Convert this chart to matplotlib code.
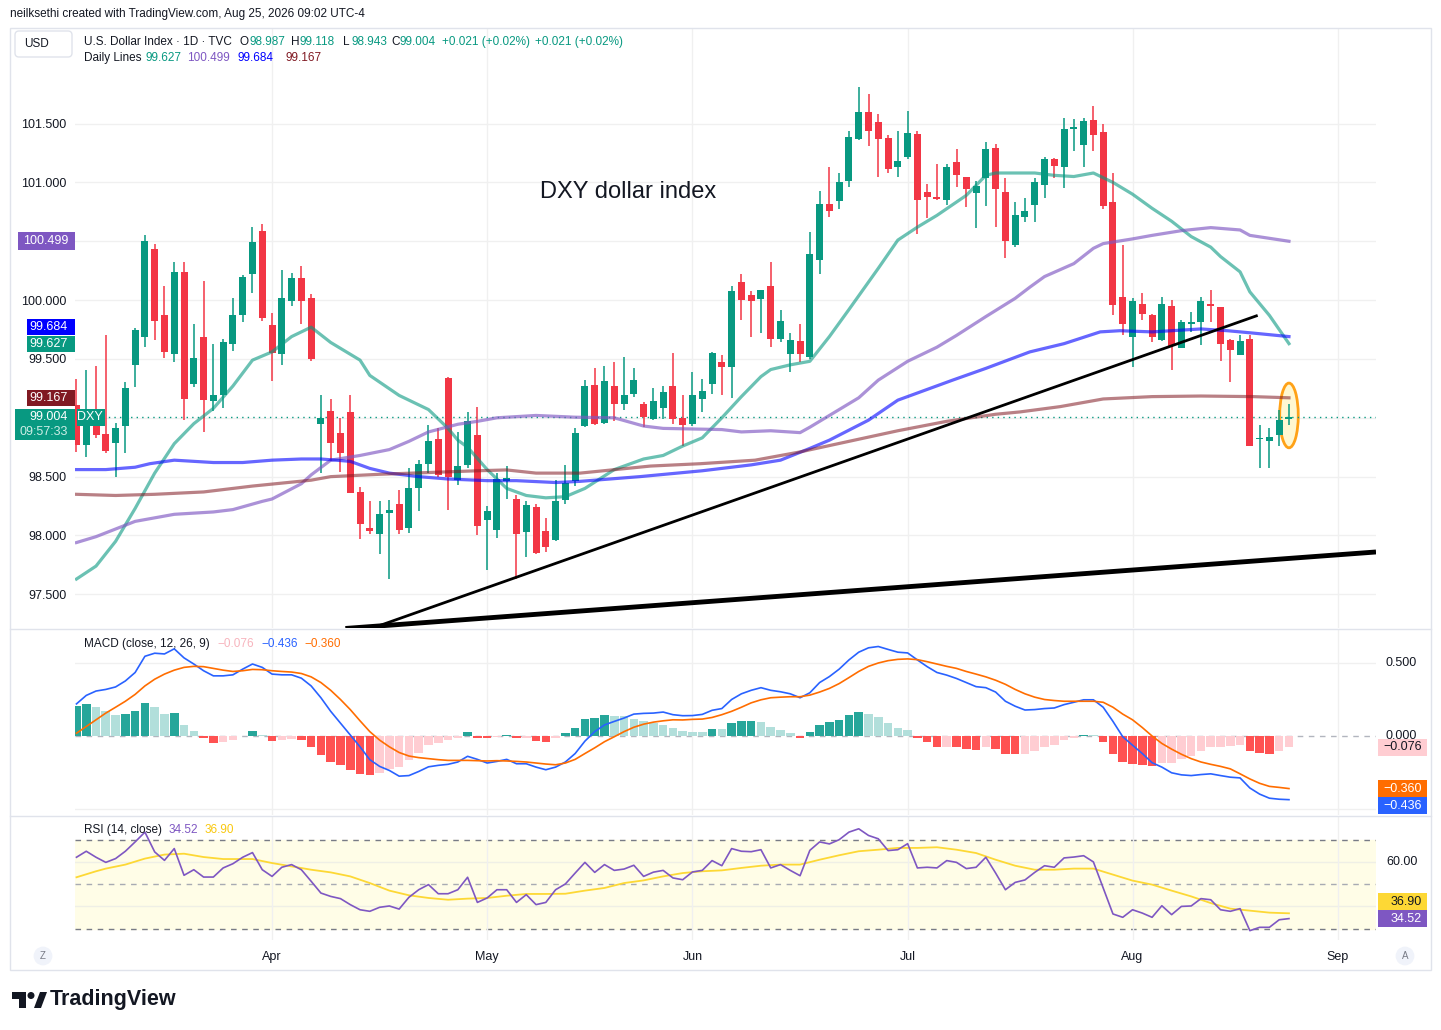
import numpy as np
import pandas as pd
import matplotlib
matplotlib.use("Agg")
import matplotlib.pyplot as plt
from matplotlib.patches import Rectangle, Ellipse, Polygon, FancyBboxPatch
from matplotlib.lines import Line2D
from matplotlib.transforms import Affine2D

plt.rcParams['font.family'] = ['Liberation Sans', 'DejaVu Sans']

###########################################################################
#### Data ####
dates = pd.bdate_range("2026-03-04", "2026-08-25")

opens = [99.11, 98.77, 99.00, 98.86, 98.79, 98.93, 99.45, 99.69, 100.43, 99.87,
         99.54, 100.24, 99.29, 99.69, 99.14, 99.19, 99.63, 99.87, 100.22, 100.59,
         99.79, 99.54, 99.99, 100.19, 100.02, 98.95, 99.06, 98.87, 99.05, 98.37,
         98.06, 98.01, 98.19, 98.27, 98.06, 98.40, 98.61, 98.82, 99.34, 98.47,
         98.60, 98.85, 98.13, 98.05, 98.46, 98.31, 98.03, 98.24, 98.04, 97.96,
         98.30, 98.46, 98.93, 99.28, 98.96, 99.27, 99.12, 99.20, 99.12, 98.99,
         99.08, 99.27, 99.00, 98.95, 99.16, 99.29, 99.47, 99.43, 100.15, 100.04,
         100.01, 100.12, 99.67, 99.54, 99.65, 99.52, 100.34, 100.82, 100.84, 101.01,
         101.37, 101.60, 101.51, 101.38, 101.13, 101.22, 101.41, 100.92, 100.87, 100.85,
         101.17, 101.05, 100.91, 101.04, 101.29, 100.92, 100.47, 100.71, 100.81, 100.98,
         101.20, 101.13, 101.45, 101.32, 101.53, 101.43, 100.83, 100.03, 99.69, 99.97,
         99.87, 99.66, 99.95, 99.59, 99.80, 99.81, 99.97, 99.94, 99.66, 99.53,
         99.67, 98.82, 98.80, 98.85, 98.987]
highs = [99.33, 99.41, 99.44, 99.70, 98.96, 99.30, 99.76, 100.55, 100.48, 100.12,
         100.32, 100.32, 99.80, 100.16, 99.63, 99.67, 100.02, 100.21, 100.62, 100.65,
         99.89, 100.26, 100.23, 100.29, 100.05, 99.19, 99.16, 99.00, 99.19, 98.41,
         98.29, 98.29, 98.30, 98.39, 98.57, 98.64, 98.94, 98.91, 99.35, 98.88,
         99.05, 99.09, 98.25, 98.53, 98.59, 98.34, 98.29, 98.27, 98.15, 98.47,
         98.60, 98.91, 99.32, 99.42, 99.44, 99.47, 99.52, 99.42, 99.13, 99.25,
         99.27, 99.55, 99.19, 99.39, 99.33, 99.56, 99.53, 100.12, 100.22, 100.08,
         100.09, 100.32, 99.92, 99.72, 99.80, 100.58, 100.93, 101.13, 101.08, 101.44,
         101.81, 101.75, 101.58, 101.40, 101.44, 101.61, 101.44, 100.99, 101.16, 101.16,
         101.28, 101.05, 101.01, 101.34, 101.33, 101.04, 100.83, 100.87, 101.04, 101.22,
         101.21, 101.55, 101.54, 101.55, 101.65, 101.50, 101.08, 100.47, 100.02, 100.06,
         99.88, 100.03, 100.00, 99.83, 99.90, 100.03, 100.09, 99.94, 99.67, 99.70,
         99.70, 98.94, 98.91, 99.07, 99.118]
lows = [98.71, 98.67, 98.83, 98.70, 98.50, 98.70, 99.26, 99.60, 99.66, 99.51,
        99.47, 98.98, 99.26, 98.88, 99.06, 99.08, 99.57, 99.81, 100.06, 99.82,
        99.31, 99.45, 99.95, 99.80, 99.48, 98.53, 98.63, 98.54, 98.36, 97.97,
        98.01, 97.84, 97.63, 98.01, 98.02, 98.21, 98.53, 98.50, 98.22, 98.43,
        98.57, 98.00, 97.71, 97.98, 98.31, 97.63, 97.82, 97.84, 97.86, 97.95,
        98.27, 98.42, 98.92, 98.94, 98.95, 98.97, 99.07, 99.18, 98.92, 98.98,
        98.99, 98.95, 98.76, 98.93, 99.05, 99.20, 99.19, 99.17, 99.83, 99.69,
        99.72, 99.60, 99.64, 99.39, 99.47, 99.50, 100.22, 100.71, 100.77, 100.96,
        101.36, 101.31, 101.05, 101.08, 101.05, 101.20, 100.56, 100.70, 100.85, 100.81,
        100.96, 100.79, 100.61, 100.80, 100.62, 100.36, 100.45, 100.66, 100.66, 100.87,
        101.04, 100.95, 101.27, 101.13, 101.27, 100.77, 99.87, 99.70, 99.43, 99.83,
        99.64, 99.65, 99.41, 99.59, 99.73, 99.62, 99.81, 99.48, 99.30, 99.53,
        98.76, 98.57, 98.57, 98.76, 98.943]
closes = [98.77, 99.05, 98.85, 98.72, 98.91, 99.25, 99.75, 100.50, 99.82, 99.56,
          100.24, 99.16, 99.51, 99.15, 99.19, 99.64, 99.87, 100.20, 100.49, 99.85,
          99.55, 100.02, 100.19, 99.99, 99.50, 99.00, 98.79, 98.70, 98.36, 98.10,
          98.04, 98.18, 98.22, 98.05, 98.40, 98.61, 98.80, 98.51, 98.50, 98.59,
          98.97, 98.08, 98.21, 98.48, 98.49, 98.01, 98.26, 97.85, 97.90, 98.29,
          98.45, 98.87, 99.27, 98.95, 99.31, 99.12, 99.19, 99.32, 99.01, 99.14,
          99.22, 98.99, 98.94, 99.19, 99.23, 99.55, 99.43, 100.08, 100.00, 99.99,
          100.09, 99.67, 99.82, 99.66, 99.54, 100.39, 100.82, 100.76, 101.00, 101.39,
          101.60, 101.44, 101.37, 101.11, 101.18, 101.42, 100.85, 100.88, 100.86, 101.13,
          101.06, 100.94, 100.97, 101.28, 100.94, 100.50, 100.72, 100.76, 101.00, 101.20,
          101.14, 101.45, 101.47, 101.52, 101.40, 100.80, 99.96, 99.80, 99.99, 99.88,
          99.69, 99.97, 99.61, 99.81, 99.81, 99.99, 99.95, 99.63, 99.58, 99.65,
          98.76, 98.83, 98.84, 98.98, 99.004]

# daily moving averages (teal / purple / blue / brown), sampled by bar index
ma_teal_bar = [0, 2, 4, 6, 8, 10, 12, 14, 16, 18, 20, 22, 24, 26, 29, 30, 33, 36, 38, 39,
               40, 42, 44, 46, 48, 50, 52, 55, 58, 60, 62, 64, 66, 68, 70, 71, 73, 75, 77, 79,
               82, 84, 86, 88, 91, 93, 94, 98, 100, 102, 104, 106, 108, 110, 112, 114, 116, 117, 119, 120,
               122, 124]
ma_teal_val = [97.63, 97.74, 97.95, 98.23, 98.53, 98.78, 98.95, 99.08, 99.27, 99.49,
               99.56, 99.69, 99.77, 99.64, 99.49, 99.36, 99.19, 99.07, 98.91, 98.81,
               98.75, 98.56, 98.40, 98.34, 98.32, 98.33, 98.40, 98.56, 98.65, 98.68,
               98.76, 98.83, 99.00, 99.18, 99.35, 99.41, 99.45, 99.48, 99.69, 99.92,
               100.27, 100.51, 100.62, 100.72, 100.89, 101.06, 101.08, 101.08, 101.06, 101.05,
               101.08, 101.00, 100.90, 100.78, 100.67, 100.54, 100.45, 100.37, 100.24, 100.07,
               99.87, 99.63]
ma_purple_bar = [0, 2, 6, 10, 14, 16, 19, 20, 23, 24, 26, 29, 32, 34, 36, 39, 41, 43, 47, 51,
                 55, 58, 60, 63, 66, 68, 71, 74, 75, 77, 80, 82, 85, 88, 90, 93, 96, 97.5, 99, 102,
                 104, 105, 108, 110, 113, 116, 119, 120, 124]
ma_purple_val = [97.94, 97.99, 98.12, 98.18, 98.20, 98.22, 98.29, 98.31, 98.44, 98.515,
                 98.64, 98.68, 98.73, 98.80, 98.88, 98.945, 98.97, 99.00, 99.02, 99.005,
                 99.00, 98.93, 98.91, 98.905, 98.90, 98.88, 98.89, 98.874, 98.92, 99.02,
                 99.17, 99.32, 99.48, 99.60, 99.70, 99.86, 100.015, 100.11, 100.20, 100.31,
                 100.44, 100.48, 100.52, 100.55, 100.59, 100.616, 100.596, 100.55, 100.50]
ma_blue_bar = [0, 3, 6, 7.5, 10, 14, 17, 20, 23, 25, 28, 30, 32, 35, 38, 42, 45, 49, 51.5, 57.6,
               64, 69, 72, 75, 77, 81, 84, 89.6, 93, 97.5, 101, 104.7, 106.7, 110, 115, 117.7, 120.3, 124]
ma_blue_val = [98.56, 98.56, 98.58, 98.61, 98.64, 98.62, 98.62, 98.64, 98.65, 98.65,
               98.63, 98.57, 98.53, 98.50, 98.48, 98.466, 98.466, 98.45, 98.46, 98.50,
               98.55, 98.60, 98.64, 98.74, 98.81, 98.98, 99.15, 99.32, 99.42, 99.56,
               99.63, 99.73, 99.74, 99.73, 99.755, 99.74, 99.72, 99.69]
ma_brown_bar = [0, 4, 8, 13, 18, 24, 26, 31, 36, 41, 44, 47, 51.5, 58.7, 63.8, 69.4, 74, 79, 84, 89,
                94, 96.5, 100.6, 105, 110, 115, 120.3, 124]
ma_brown_val = [98.35, 98.34, 98.35, 98.37, 98.42, 98.47, 98.50, 98.52, 98.535, 98.55,
                98.557, 98.53, 98.53, 98.59, 98.61, 98.64, 98.71, 98.80, 98.89, 98.97,
                99.03, 99.05, 99.095, 99.16, 99.18, 99.185, 99.18, 99.17]

# hand drawn trend lines
trend_thin_bar = [30.5, 120.8]
trend_thin_val = [97.22, 99.87]
trend_thick_bar = [27.5, 132.9]
trend_thick_val = [97.21, 97.86]

# MACD (12, 26, 9)
macd_line = [0.220, 0.278, 0.308, 0.319, 0.336, 0.377, 0.435, 0.546, 0.567, 0.562,
             0.597, 0.535, 0.493, 0.447, 0.412, 0.412, 0.419, 0.458, 0.493, 0.470,
             0.424, 0.419, 0.419, 0.396, 0.343, 0.262, 0.169, 0.088, 0.007, -0.074,
             -0.162, -0.208, -0.236, -0.275, -0.271, -0.243, -0.211, -0.201, -0.194, -0.178,
             -0.139, -0.160, -0.185, -0.174, -0.160, -0.190, -0.190, -0.213, -0.231, -0.213,
             -0.178, -0.120, -0.035, 0.030, 0.076, 0.100, 0.123, 0.150, 0.155, 0.157,
             0.164, 0.146, 0.139, 0.140, 0.148, 0.176, 0.188, 0.250, 0.289, 0.313,
             0.331, 0.313, 0.303, 0.289, 0.262, 0.296, 0.366, 0.407, 0.458, 0.521,
             0.574, 0.604, 0.613, 0.593, 0.574, 0.569, 0.521, 0.475, 0.435, 0.417,
             0.394, 0.366, 0.338, 0.331, 0.301, 0.238, 0.204, 0.178, 0.181, 0.188,
             0.192, 0.215, 0.231, 0.248, 0.248, 0.197, 0.100, -0.005, -0.063, -0.120,
             -0.183, -0.213, -0.252, -0.266, -0.271, -0.264, -0.259, -0.271, -0.282, -0.287,
             -0.356, -0.398, -0.426, -0.433, -0.436]
macd_signal = [0.019, 0.065, 0.111, 0.157, 0.197, 0.238, 0.285, 0.343, 0.389, 0.424,
               0.451, 0.470, 0.477, 0.475, 0.463, 0.451, 0.442, 0.447, 0.456, 0.454,
               0.447, 0.442, 0.438, 0.428, 0.405, 0.366, 0.313, 0.250, 0.181, 0.104,
               0.030, -0.028, -0.074, -0.113, -0.137, -0.148, -0.155, -0.162, -0.167, -0.167,
               -0.167, -0.169, -0.171, -0.169, -0.171, -0.174, -0.178, -0.185, -0.192, -0.197,
               -0.185, -0.160, -0.120, -0.081, -0.039, -0.005, 0.030, 0.060, 0.081, 0.095,
               0.104, 0.111, 0.110, 0.114, 0.116, 0.127, 0.146, 0.169, 0.197, 0.227,
               0.248, 0.262, 0.266, 0.269, 0.269, 0.280, 0.301, 0.326, 0.359, 0.400,
               0.442, 0.477, 0.500, 0.516, 0.525, 0.528, 0.523, 0.509, 0.493, 0.477,
               0.463, 0.442, 0.424, 0.405, 0.382, 0.354, 0.319, 0.289, 0.266, 0.250,
               0.243, 0.238, 0.238, 0.238, 0.238, 0.231, 0.197, 0.150, 0.111, 0.058,
               0.000, -0.051, -0.090, -0.125, -0.155, -0.178, -0.194, -0.208, -0.225, -0.259,
               -0.294, -0.324, -0.345, -0.352, -0.360]
macd_hist = [0.204, 0.220, 0.197, 0.169, 0.146, 0.150, 0.169, 0.227, 0.197, 0.150,
             0.157, 0.072, 0.037, -0.016, -0.051, -0.039, -0.028, 0.003, 0.037, 0.007,
             -0.032, -0.028, -0.021, -0.028, -0.074, -0.127, -0.178, -0.201, -0.231, -0.259,
             -0.266, -0.252, -0.225, -0.213, -0.162, -0.113, -0.063, -0.046, -0.028, -0.016,
             0.030, -0.012, -0.016, -0.007, 0.009, -0.016, -0.012, -0.035, -0.044, -0.016,
             0.019, 0.058, 0.118, 0.123, 0.141, 0.139, 0.134, 0.118, 0.104, 0.088,
             0.076, 0.058, 0.035, 0.030, 0.029, 0.051, 0.049, 0.086, 0.100, 0.101,
             0.099, 0.065, 0.044, 0.023, -0.012, 0.030, 0.072, 0.093, 0.113, 0.141,
             0.162, 0.148, 0.127, 0.086, 0.058, 0.044, -0.012, -0.044, -0.074, -0.072,
             -0.075, -0.086, -0.095, -0.074, -0.086, -0.123, -0.124, -0.122, -0.102, -0.074,
             -0.060, -0.025, -0.012, 0.009, 0.008, -0.039, -0.123, -0.178, -0.192, -0.199,
             -0.206, -0.185, -0.184, -0.157, -0.137, -0.102, -0.074, -0.073, -0.067, -0.060,
             -0.102, -0.116, -0.123, -0.102, -0.076]

# RSI (14) and its moving average
rsi = [62.1, 64.8, 62.1, 59.8, 61.5, 64.8, 69.0, 73.4, 64.5, 60.7,
       66.0, 54.0, 56.5, 53.2, 53.2, 57.3, 59.2, 62.1, 64.2, 56.5,
       53.5, 57.6, 58.8, 56.5, 51.3, 46.0, 44.5, 43.5, 40.8, 38.5,
       37.8, 39.6, 40.2, 38.8, 44.1, 47.5, 49.8, 45.7, 45.7, 47.5,
       53.1, 41.8, 43.8, 47.5, 47.5, 41.8, 45.3, 40.8, 41.8, 47.5,
       50.1, 55.0, 59.8, 55.3, 58.8, 56.2, 56.8, 58.5, 53.5, 55.4,
       56.2, 52.8, 52.0, 55.5, 56.2, 60.6, 58.3, 66.0, 64.8, 64.6,
       65.5, 57.3, 58.8, 56.2, 53.8, 65.2, 69.0, 68.1, 70.0, 73.4,
       74.9, 71.9, 70.4, 65.1, 65.5, 68.2, 57.3, 57.6, 57.3, 60.6,
       59.8, 57.0, 57.6, 62.1, 55.0, 47.5, 50.8, 51.9, 55.3, 58.3,
       57.6, 61.8, 62.2, 62.8, 60.0, 48.3, 36.6, 35.1, 38.5, 37.0,
       35.1, 40.3, 36.3, 40.0, 40.2, 43.5, 43.0, 38.5, 37.8, 39.0,
       29.1, 30.6, 30.6, 34.0, 34.52]
rsi_ma_bar = [0, 2, 3, 5, 7, 9, 11, 13, 15, 17, 18, 20, 22, 24, 26, 28, 30, 32, 34, 36,
              38, 40, 42, 44, 46, 48, 50, 52, 54, 56, 58, 60, 62, 64, 66, 68, 70, 72, 74, 76,
              78, 80, 82, 84, 86, 88, 90, 92, 94, 96, 98, 100, 102, 104, 106, 108, 110, 112, 114, 116,
              118, 120, 122, 124]
rsi_ma_val = [53.1, 55.8, 57.0, 58.8, 61.5, 63.3, 63.7, 62.2, 61.3, 61.3,
              61.3, 59.5, 58.0, 56.5, 55.3, 53.5, 50.5, 47.1, 45.0, 43.8,
              43.0, 43.5, 43.8, 44.8, 45.6, 45.6, 45.7, 47.1, 48.3, 50.5,
              51.7, 53.5, 55.0, 55.8, 56.2, 57.3, 58.3, 58.8, 58.8, 61.0,
              63.0, 64.8, 65.5, 66.3, 66.3, 66.6, 65.5, 64.0, 61.0, 58.3,
              56.5, 56.5, 57.0, 57.0, 54.3, 51.6, 49.8, 47.1, 44.5, 41.5,
              39.0, 38.1, 37.2, 36.9]

month_names = ["Apr", "May", "Jun", "Jul", "Aug", "Sep"]
month_nums = [4, 5, 6, 7, 8, 9]

###########################################################################
#### Colours ####
UP = "#089981"; DN = "#f23645"; TXT = "#131722"; GRID = "#f0f0f0"; FRAME = "#e0e3eb"
C_TEAL = "#089981"; C_PURP = "#7e57c2"; C_BLUE = "#0000ff"; C_BROWN = "#801922"
FS = 8.5  # legend / axis text size

W, H = 1441, 1030
fig = plt.figure(figsize=(W / 100, H / 100), dpi=100)
fig.patch.set_facecolor("white")
pix = Affine2D().scale(1.0 / W, -1.0 / H).translate(0, 1) + fig.transFigure


def px_axes(x0, y0, x1, y1):
    return fig.add_axes([x0 / W, 1 - y1 / H, (x1 - x0) / W, (y1 - y0) / H])


ax = px_axes(75, 28, 1376, 628)
axm = px_axes(75, 630, 1376, 815)
axr = px_axes(75, 817, 1376, 940)

all_days = pd.bdate_range("2026-03-04", "2026-09-30")
month_pos = [int(np.argmax(all_days.month == m)) for m in month_nums]

for a in (ax, axm, axr):
    a.set_xlim(-0.15, 132.9)
    for s in a.spines.values():
        s.set_visible(False)
    a.set_xticks(month_pos)
    a.tick_params(length=0)
    a.grid(axis="x", color=GRID, lw=1, zorder=0)
    a.set_facecolor("none")
ax.set_xticklabels([]); axm.set_xticklabels([])
axr.set_xticklabels(month_names)
axr.tick_params(axis="x", pad=8, labelsize=9, labelcolor=TXT)

###########################################################################
#### Main price pane ####
ax.set_ylim(97.214, 102.312)
yt = [97.5, 98.0, 98.5, 99.0, 99.5, 100.0, 100.5, 101.0, 101.5]
ax.set_yticks(yt)
ax.set_yticklabels(["" if v in (99.0, 100.5) else "%.3f" % v for v in yt])
ax.tick_params(axis="y", pad=6, labelsize=9, labelcolor=TXT)
ax.grid(axis="y", color=GRID, lw=1, zorder=0)

o = np.array(opens); h = np.array(highs); l = np.array(lows); c = np.array(closes)
xb = np.arange(len(o))
col = np.where(c >= o, UP, DN)

ell = Ellipse((xb[-1], 99.02), 1.9, 0.55, facecolor="#fff7cc", edgecolor="#ff9800", lw=2, alpha=0.9, zorder=2)
ax.add_patch(ell)

ax.vlines(xb, l, h, color=col, lw=1.1, zorder=3)
ax.bar(xb, np.maximum(np.abs(c - o), 0.012), bottom=np.minimum(o, c), width=0.72,
       color=col, linewidth=0, zorder=4)

ax.plot(ma_teal_bar, ma_teal_val, color=C_TEAL, lw=2.3, alpha=0.6, zorder=5)
ax.plot(ma_purple_bar, ma_purple_val, color=C_PURP, lw=2.3, alpha=0.65, zorder=5)
ax.plot(ma_blue_bar, ma_blue_val, color=C_BLUE, lw=2.3, alpha=0.6, zorder=5)
ax.plot(ma_brown_bar, ma_brown_val, color=C_BROWN, lw=2.3, alpha=0.55, zorder=5)

ax.plot(trend_thin_bar, trend_thin_val, color="black", lw=2, zorder=6, solid_capstyle="butt")
ax.plot(trend_thick_bar, trend_thick_val, color="black", lw=3.5, zorder=6, solid_capstyle="butt")

ax.axhline(closes[-1], color=UP, lw=1, ls=(0, (1, 3)), zorder=2)
ax.text(56.4, 100.92, "DXY dollar index", fontsize=17, color=TXT, ha="center", va="center", zorder=7)

###########################################################################
#### MACD pane ####
axm.set_ylim(-0.541, 0.726)
axm.set_yticks([])
for v in (0.5, -0.5):
    axm.axhline(v, color=GRID, lw=1, zorder=0)
axm.axhline(0, color="#b2b5be", lw=1, ls=(0, (4, 4)), zorder=1)
hist = np.array(macd_hist)
prev = np.concatenate([[-1.0], hist[:-1]])
hcol = np.where(hist >= 0, np.where(hist > prev, "#26a69a", "#b2dfdb"),
                np.where(hist > prev, "#ffcdd2", "#ff5252"))
axm.bar(xb, hist, width=0.88, color=hcol, linewidth=0, zorder=2)
axm.plot(xb, macd_line, color="#2962ff", lw=1.2, zorder=3)
axm.plot(xb, macd_signal, color="#ff6d00", lw=1.2, zorder=3)

###########################################################################
#### RSI pane ####
axr.set_ylim(24.9, 80.2)
axr.set_yticks([])
axr.axhspan(30, 70, color="#fffde7", zorder=0)
for v in (60, 40):
    axr.axhline(v, color="#efefe6", lw=1, zorder=1)
axr.axhline(70, color="#787b86", lw=1, ls=(0, (4, 4)), zorder=1)
axr.axhline(30, color="#787b86", lw=1, ls=(0, (4, 4)), zorder=1)
axr.axhline(50, color="#a8abb3", lw=1, ls=(0, (4, 4)), zorder=1)
axr.plot(rsi_ma_bar, rsi_ma_val, color="#fdd835", lw=1.3, zorder=2)
axr.plot(xb, rsi, color=C_PURP, lw=1.2, zorder=3)

###########################################################################
#### Frame, labels, tags ####
fig.add_artist(Rectangle((10, 28), 1421, 942, transform=pix, fill=False, ec=FRAME, lw=1, zorder=1))
for yy in (629, 816):
    fig.add_artist(Line2D([10, 1431], [yy, yy], transform=pix, color=FRAME, lw=1, zorder=1))


def ptxt(x, y, s, **kw):
    kw.setdefault("fontsize", FS)
    kw.setdefault("color", TXT)
    kw.setdefault("va", "center")
    fig.text(x, y, s, transform=pix, zorder=12, **kw)


def tag(x0, x1, yc, hh, fc, txt, tc, tx):
    fig.add_artist(Rectangle((x0, yc - hh / 2), x1 - x0, hh, transform=pix,
                             facecolor=fc, edgecolor="none", zorder=10))
    ptxt(tx, yc, txt, color=tc, ha="right", fontsize=9)


def main_py(v):
    return H - ax.transData.transform((0, v))[1]


def macd_py(v):
    return H - axm.transData.transform((0, v))[1]


def rsi_py(v):
    return H - axr.transData.transform((0, v))[1]


ptxt(10, 14, "neilksethi created with TradingView.com, Aug 25, 2026 09:02 UTC-4", fontsize=8.5)
fig.add_artist(FancyBboxPatch((15, 31), 57, 26, boxstyle="round,pad=0,rounding_size=4", transform=pix,
                              fc="white", ec=FRAME, lw=1, zorder=10))
ptxt(24, 44, "USD")

# legend line 1
ptxt(84, 42, "U.S. Dollar Index \u00b7 1D \u00b7 TVC")
for lx, lab, vx, val in [(240, "O", 249, "98.987"), (291, "H", 300, "99.118"),
                         (343, "L", 351, "98.943"), (391, "C", 400, "99.004")]:
    ptxt(lx, 42, lab)
    ptxt(vx, 42, val, color=UP)
ptxt(442, 42, "+0.021 (+0.02%)", color=UP)
ptxt(535, 42, "+0.021 (+0.02%)", color=UP)
# legend line 2
ptxt(84, 58, "Daily Lines")
ptxt(146, 58, "99.627", color=C_TEAL)
ptxt(187, 58, "100.499", color=C_PURP)
ptxt(238, 58, "99.684", color=C_BLUE)
ptxt(286, 58, "99.167", color=C_BROWN)

# left price tags
tag(18, 75, main_py(100.499), 18, C_PURP, "100.499", "white", 68)
yt_teal = main_py(99.627)
tag(27, 75, yt_teal - 17, 16, C_BLUE, "99.684", "white", 68)
tag(27, 75, yt_teal, 16, C_TEAL, "99.627", "white", 68)
tag(27, 75, main_py(99.167), 16, C_BROWN, "99.167", "white", 68)
yc = main_py(closes[-1])
fig.add_artist(Rectangle((15, yc - 8), 60, 31, transform=pix, facecolor=UP, edgecolor="none", zorder=10))
ptxt(68, yc, "99.004", color="white", ha="right", fontsize=9)
ptxt(68, yc + 15, "09:57:33", color="#cdeee6", ha="right", fontsize=9)
tag(77, 105, yc, 17, UP, "DXY", "white", 103)

# MACD labels
ptxt(84, 644, "MACD (close, 12, 26, 9)")
ptxt(217, 644, "\u22120.076", color="#f7b4bd")
ptxt(261, 644, "\u22120.436", color="#2962ff")
ptxt(304, 644, "\u22120.360", color="#ff6d00")
ptxt(1386, macd_py(0.5), "0.500", fontsize=9)
ptxt(1386, macd_py(0.0), "0.000", fontsize=9)
tag(1378, 1427, macd_py(macd_hist[-1]), 17, "#ffcdd2", "\u22120.076", TXT, 1422)
tag(1378, 1427, macd_py(macd_signal[-1]), 17, "#ff6d00", "\u22120.360", "white", 1422)
tag(1378, 1427, macd_py(macd_signal[-1]) + 17, 17, "#2962ff", "\u22120.436", "white", 1422)

# RSI labels
ptxt(84, 830, "RSI (14, close)")
ptxt(169, 830, "34.52", color=C_PURP)
ptxt(205, 830, "36.90", color="#f9c80e")
ptxt(1386, rsi_py(60), "60.00", fontsize=9)
y_rsi = rsi_py(rsi[-1])
tag(1378, 1427, y_rsi - 17, 17, "#fdd835", "36.90", TXT, 1422)
tag(1378, 1427, y_rsi, 17, C_PURP, "34.52", "white", 1422)

# Z / A buttons
for bx, s in ((43, "Z"), (1405, "A")):
    ptxt(bx, 956, s, ha="center", fontsize=7, color="#787b86",
         bbox=dict(boxstyle="circle,pad=0.45", fc="#f0f3fa", ec="none"))

# TradingView logo
fig.add_artist(Polygon([(12, 992), (26, 992), (26, 1008), (19, 1008), (19, 999), (12, 999)],
                       closed=True, transform=pix, fc=TXT, ec="none", zorder=10))
fig.add_artist(Ellipse((31, 995.5), 7, 7, transform=pix, fc=TXT, ec="none", zorder=10))
fig.add_artist(Polygon([(34, 1008), (40, 992), (47, 992), (41, 1008)], closed=True,
                       transform=pix, fc=TXT, ec="none", zorder=10))
ptxt(50, 1000, "TradingView", fontsize=15.5, fontweight="bold")

fig.savefig("out.png", dpi=100)
